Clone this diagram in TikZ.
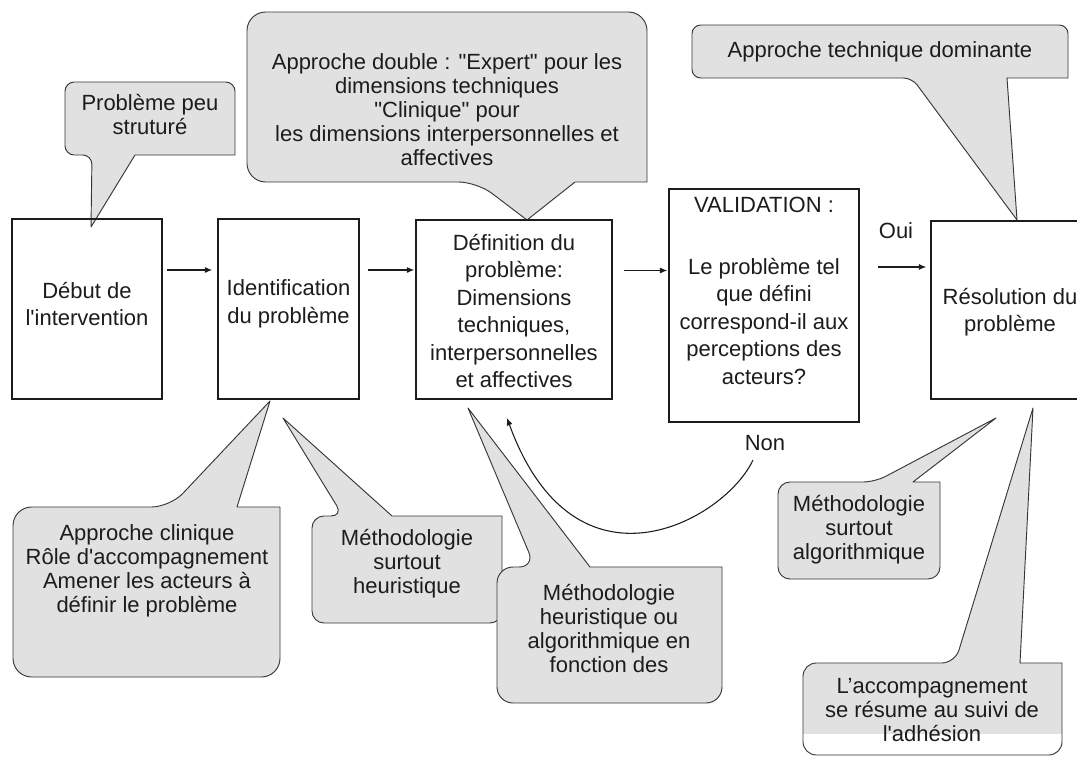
\documentclass[tikz,border=0pt]{standalone}
\usepackage{fontspec}
\setmainfont{Liberation Sans}
\usetikzlibrary{arrows.meta}

\definecolor{bubblefill}{RGB}{225,225,225}
\definecolor{ink}{RGB}{28,28,28}
\definecolor{bubbleline}{RGB}{55,55,55}

\newcommand{\ap}{\textquotesingle}
\newcommand{\dq}{\textquotedbl}

% Callout with its pointer on the bottom edge:
% #1,#2 top-left  #3,#4 bottom-right  #5,#6 pointer base  #7,#8 tip  #9 corner radius
\newcommand\bubbleDown[9]{%
  \draw[bubble] ({(#1+#3)/2},#2) [rounded corners=#9] -- (#1,#2) -- (#1,#4) -- (#5,#4)
    [sharp corners] -- (#7,#8) -- (#6,#4) -- (#3,#4)
    [rounded corners=#9] -- (#3,#2) -- cycle;}
% Callout with its pointer on the top edge
\newcommand\bubbleUp[9]{%
  \draw[bubble] ({(#1+#3)/2},#4) [rounded corners=#9] -- (#1,#4) -- (#1,#2) -- (#5,#2)
    [sharp corners] -- (#7,#8) -- (#6,#2) -- (#3,#2)
    [rounded corners=#9] -- (#3,#4) -- cycle;}

\begin{document}
\begin{tikzpicture}[x=0.75pt,y=-0.75pt,
  every node/.style={text=ink, inner sep=0pt, align=center},
  flowbox/.style={draw=ink, line width=1.1pt},
  bubble/.style={fill=bubblefill, draw=bubbleline, line width=0.7pt, line join=round},
  boxtxt/.style={font=\fontsize{16.5}{20.6}\selectfont},
  bubtxt/.style={font=\fontsize{16.5}{18}\selectfont},
  flow/.style={draw=ink, line width=0.8pt, -{Latex[length=5.5pt,width=4.5pt]}}]

\useasboundingbox (0,0) rectangle (1077,757);
\fill[white] (0,0) rectangle (1077,757);

% ---- callouts ----
\bubbleDown{65}{82}{235}{155}{92}{135}{91}{227}{7pt}
\bubbleDown{247}{12}{647}{182}{477}{575}{527}{220}{14pt}
\bubbleDown{692}{25}{1068}{78}{912}{1007}{1017}{220}{6.5pt}
\bubbleUp{13}{507}{280}{677}{170}{237}{270}{401}{14pt}
\bubbleUp{312}{516}{502}{623}{343}{392}{283}{418}{9pt}
\bubbleUp{497}{567}{722}{703}{535}{590}{468}{408}{12pt}
\bubbleUp{778}{482}{940}{579}{875}{913}{996}{418}{9pt}

% last callout: grey only down to the third line, white below
\fill[bubble, draw=none] (932,755) [rounded corners=10pt] -- (803,755) -- (803,663) -- (955,663)
  [sharp corners] -- (1033,408) -- (1020,663) -- (1062,663)
  [rounded corners=10pt] -- (1062,755) -- cycle;
\begin{scope}
  \clip[rounded corners=10pt] (803,663) rectangle (1062,755);
  \fill[white] (798,734) rectangle (1068,762);
\end{scope}
\draw[bubble, fill=none] (932,755) [rounded corners=10pt] -- (803,755) -- (803,663) -- (955,663)
  [sharp corners] -- (1033,408) -- (1020,663) -- (1062,663)
  [rounded corners=10pt] -- (1062,755) -- cycle;

% ---- callout texts ----
\node[bubtxt] (t1) at (150,115) {Problème peu\\struturé};
\node[bubtxt] (t2) at (447,110) {Approche double : \dq Expert\dq{} pour les\\dimensions techniques\\\dq Clinique\dq{} pour\\les dimensions interpersonnelles et\\affectives};
\node[bubtxt] (t3) at (880,52) {Approche technique dominante};
\node[bubtxt] (t4) at (147,571) {Approche clinique\\Rôle d\ap accompagnement\\Amener les acteurs à\\définir le problème};
\node[bubtxt] (t5) at (407,564) {Méthodologie\\surtout\\heuristique};
\node[bubtxt] (t6) at (609,628) {Méthodologie\\heuristique ou\\algorithmique en\\fonction des};
\node[bubtxt] (t7) at (859,530) {Méthodologie\\surtout\\algorithmique};
\node[bubtxt] (t8) at (932,710) {L’accompagnement\\se résume au suivi de\\l\ap adhésion};

% ---- process boxes ----
\node[flowbox, minimum width=112.5pt, minimum height=135pt] (b1) at (87,309) {};
\node[flowbox, minimum width=105.75pt, minimum height=135pt] (b2) at (288.5,309) {};
\node[flowbox, minimum width=147pt, minimum height=134.25pt] (b3) at (514,309.5) {};
\node[flowbox, minimum width=142.5pt, minimum height=174.75pt] (b4) at (764,305.5) {};
\node[flowbox, minimum width=118.5pt, minimum height=133.5pt] (b5) at (1010,310) {};

\node[boxtxt] (x1) at (87,304) {Début de\\l\ap intervention};
\node[boxtxt] (x2) at (288.5,304) {Identification\\du problème};
\node[boxtxt] (x3) at (514,311) {Définition du\\problème:\\Dimensions\\techniques,\\interpersonnelles\\et affectives};
\node[boxtxt] (x4) at (764,290.5) {VALIDATION :\\[25.9pt]Le problème tel\\que défini\\correspond-il aux\\perceptions des\\acteurs?};
\node[boxtxt] (x5) at (1010,312) {Résolution du\\problème};

% ---- connectors ----
\coordinate (a1) at ([yshift=29.25pt]b1.east);
\coordinate (a2) at ([yshift=29.25pt]b2.east);
\coordinate (a3) at ([yshift=29.25pt]b3.east);
\coordinate (a4) at ([yshift=28.9pt]b4.east);
\draw[flow, shorten <=3pt, shorten >=3.75pt] (a1) -- (a1 -| b2.west);
\draw[flow, shorten <=6pt, shorten >=0.75pt] (a2) -- (a2 -| b3.west);
\draw[flow, shorten <=8.25pt, shorten >=0.75pt] (a3) -- (a3 -| b4.west);
\draw[flow, shorten <=13.5pt, shorten >=3pt] (a4) -- (a4 -| b5.west);

\node[boxtxt] (oui) at (896,231) {Oui};
\node[boxtxt] (non) at (765,443) {Non};

\coordinate (nstart) at (753,460);
\coordinate (nend) at (507,418);
\draw[flow] (nstart) .. controls (725,520) and (575,605) .. (nend);

\end{tikzpicture}
\end{document}
